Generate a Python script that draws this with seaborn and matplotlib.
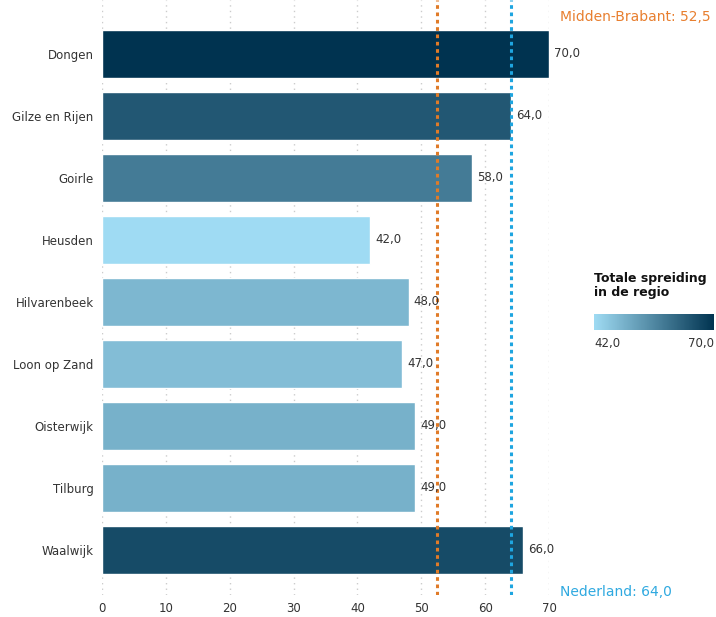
import numpy as np
import pandas as pd
import seaborn as sns
import matplotlib.pyplot as plt
from matplotlib.colors import LinearSegmentedColormap, Normalize
from matplotlib.colorbar import ColorbarBase

gemeenten = ["Dongen", "Gilze en Rijen", "Goirle", "Heusden", "Hilvarenbeek",
             "Loon op Zand", "Oisterwijk", "Tilburg", "Waalwijk"]
waarden = [70.0, 64.0, 58.0, 42.0, 48.0, 47.0, 49.0, 49.0, 66.0]
regio_label = "Midden-Brabant"
regio_waarde = 52.5
nl_label = "Nederland"
nl_waarde = 64.0


def nl_fmt(v):
    return f"{v:.1f}".replace(".", ",")


cmap = LinearSegmentedColormap.from_list("spreiding", ["#9fdbf3", "#003350"])
norm = Normalize(vmin=min(waarden), vmax=max(waarden))

sns.set_style("white")
plt.rcParams["font.family"] = ["DejaVu Sans"]

df = pd.DataFrame({"gemeente": gemeenten, "waarde": waarden})

fig = plt.figure(figsize=(7.16, 6.17), dpi=100)
ax = fig.add_axes([102 / 716, 22 / 617, 447 / 716, 595 / 617])

sns.barplot(data=df, x="waarde", y="gemeente", hue="gemeente",
            palette=[cmap(norm(v)) for v in waarden], legend=False,
            width=0.78, saturation=1, ax=ax, zorder=2)

ax.set_xlim(0, 70)
ax.set_ylim(8 + 45 / 62, -54 / 62)
ax.set_xticks(range(0, 71, 10))
ax.grid(axis="x", linestyle=(0, (1, 3)), color="#cccccc", linewidth=1, zorder=0)
ax.set_axisbelow(True)
for s in ax.spines.values():
    s.set_visible(False)
ax.set_xlabel("")
ax.set_ylabel("")
ax.tick_params(axis="both", length=0, labelsize=8.5, colors="#333333")
ax.tick_params(axis="y", pad=6)
ax.tick_params(axis="x", pad=5)

for i, v in enumerate(waarden):
    ax.text(v + 0.8, i, nl_fmt(v), va="center", ha="left", fontsize=8.5,
            color="#333333", zorder=4)

ax.axvline(regio_waarde, color="#e07b28", linestyle=(0, (1.2, 1.2)),
           linewidth=2.2, zorder=3)
ax.axvline(nl_waarde, color="#1ea5e0", linestyle=(0, (1.2, 1.2)),
           linewidth=2.2, zorder=3)

fig.text(560 / 716, 1 - 17 / 617, f"{regio_label}: {nl_fmt(regio_waarde)}",
         color="#e87f2f", fontsize=10, va="center", ha="left")
fig.text(560 / 716, 1 - 592 / 617, f"{nl_label}: {nl_fmt(nl_waarde)}",
         color="#2fa9e0", fontsize=10, va="center", ha="left")

cax = fig.add_axes([594 / 716, 1 - 330 / 617, 120 / 716, 16 / 617])
cb = ColorbarBase(cax, cmap=cmap, norm=norm, orientation="horizontal")
cb.outline.set_visible(False)
cax.set_xticks([])
fig.text(594 / 716, 1 - 272 / 617, "Totale spreiding\nin de regio",
         fontsize=9, fontweight="bold", va="top", ha="left", color="#111111",
         linespacing=1.1)
fig.text(594 / 716, 1 - 343 / 617, nl_fmt(min(waarden)), fontsize=8.5,
         va="center", ha="left", color="#333333")
fig.text(714 / 716, 1 - 343 / 617, nl_fmt(max(waarden)), fontsize=8.5,
         va="center", ha="right", color="#333333")

fig.savefig("out.png", dpi=100)
